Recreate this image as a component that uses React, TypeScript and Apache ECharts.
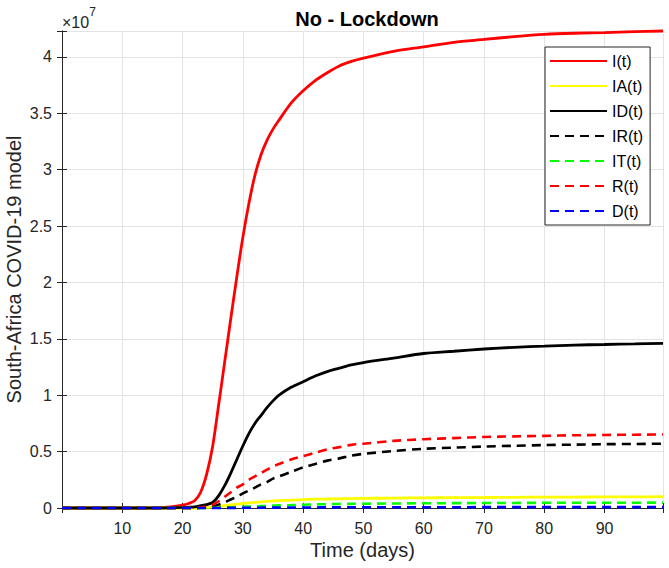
import React, { useEffect, useRef } from "react";
import * as echarts from "echarts";

const SCALE = 1e7;
const days = [0, 5, 10, 15, 18, 20, 21, 22, 23, 24, 25, 26, 27, 28, 29, 30, 31, 32, 33, 34, 35, 36, 38, 40, 42, 44, 46, 48, 50, 55, 60, 65, 70, 75, 80, 85, 90, 95, 99.7];

const I = [0, 0, 0, 0.001, 0.01, 0.025, 0.04, 0.065, 0.14, 0.3, 0.55, 0.92, 1.3, 1.68, 2.05, 2.4, 2.7, 2.95, 3.13, 3.26, 3.36, 3.44, 3.59, 3.7, 3.79, 3.86, 3.92, 3.96, 3.99, 4.05, 4.09, 4.13, 4.155, 4.18, 4.2, 4.21, 4.215, 4.225, 4.23];
const IA = [0, 0, 0, 0, 0, 0, 0, 0, 0.002, 0.005, 0.01, 0.015, 0.02, 0.027, 0.034, 0.04, 0.045, 0.05, 0.054, 0.058, 0.062, 0.065, 0.07, 0.075, 0.078, 0.08, 0.082, 0.084, 0.085, 0.088, 0.09, 0.092, 0.093, 0.095, 0.096, 0.097, 0.098, 0.099, 0.1];
const ID = [0, 0, 0, 0, 0.002, 0.005, 0.007, 0.01, 0.02, 0.03, 0.05, 0.11, 0.2, 0.31, 0.43, 0.55, 0.66, 0.75, 0.82, 0.89, 0.95, 1.0, 1.07, 1.12, 1.17, 1.21, 1.24, 1.27, 1.29, 1.33, 1.37, 1.39, 1.41, 1.425, 1.435, 1.445, 1.45, 1.455, 1.46];
const IR = [0, 0, 0, 0, 0, 0, 0, 0, 0.002, 0.005, 0.015, 0.03, 0.05, 0.075, 0.1, 0.13, 0.155, 0.18, 0.21, 0.23, 0.26, 0.28, 0.32, 0.36, 0.39, 0.42, 0.44, 0.465, 0.48, 0.505, 0.525, 0.535, 0.545, 0.552, 0.558, 0.562, 0.566, 0.568, 0.57];
const IT = [0, 0, 0, 0, 0, 0, 0, 0, 0, 0.001, 0.002, 0.003, 0.005, 0.007, 0.009, 0.011, 0.013, 0.015, 0.017, 0.019, 0.021, 0.023, 0.026, 0.029, 0.032, 0.034, 0.036, 0.037, 0.038, 0.04, 0.042, 0.043, 0.044, 0.045, 0.046, 0.046, 0.047, 0.047, 0.048];
const R = [0, 0, 0, 0, 0, 0, 0, 0, 0.005, 0.015, 0.03, 0.06, 0.1, 0.14, 0.18, 0.21, 0.25, 0.28, 0.31, 0.34, 0.37, 0.39, 0.43, 0.46, 0.49, 0.52, 0.54, 0.56, 0.57, 0.595, 0.61, 0.62, 0.63, 0.635, 0.64, 0.645, 0.648, 0.65, 0.652];
const D = [0, 0, 0, 0, 0, 0, 0, 0, 0, 0, 0, 0.0005, 0.001, 0.001, 0.0015, 0.002, 0.002, 0.0025, 0.003, 0.003, 0.0035, 0.004, 0.004, 0.005, 0.005, 0.0055, 0.006, 0.006, 0.006, 0.0065, 0.007, 0.007, 0.0075, 0.0075, 0.008, 0.008, 0.008, 0.008, 0.008];

const seriesDefs = [
  { name: "I(t)", data: I, color: "#ff0000", dashed: false },
  { name: "IA(t)", data: IA, color: "#ffff00", dashed: false },
  { name: "ID(t)", data: ID, color: "#000000", dashed: false },
  { name: "IR(t)", data: IR, color: "#000000", dashed: true },
  { name: "IT(t)", data: IT, color: "#00ff00", dashed: true },
  { name: "R(t)", data: R, color: "#ff0000", dashed: true },
  { name: "D(t)", data: D, color: "#0000ff", dashed: true },
];

const X_MIN = 0;
const X_MAX = 99.7;
const Y_MAX = 4.23 * SCALE;

const FONT = "Liberation Sans, Arial, Helvetica, sans-serif";
const AX = "#262626";

export default function App() {
  const ref = useRef<HTMLDivElement>(null);
  useEffect(() => {
    if (!ref.current) return;
    const chart = echarts.init(ref.current, null, { renderer: "svg" });
    const isMultiple = (v: number, step: number) => Math.abs(v / step - Math.round(v / step)) < 1e-6;
    const grid = { left: 62, top: 31, right: 6, bottom: 60, containLabel: false, outerBoundsMode: "none" };
    const common = {
      axisLine: { show: true, lineStyle: { color: AX, width: 1 } },
      axisTick: { show: true, inside: true, length: 5, lineStyle: { color: AX } },
    };
    chart.setOption({
      animation: false,
      backgroundColor: "#ffffff",
      textStyle: { fontFamily: FONT },
      title: {
        text: "No - Lockdown",
        left: 362,
        textAlign: "center",
        top: 4,
        textStyle: { fontFamily: FONT, fontWeight: "bold", fontSize: 20, color: "#000" },
      },
      grid,
      legend: {
        orient: "vertical",
        left: 545,
        top: 47,
        itemWidth: 57,
        itemHeight: 14,
        itemGap: 9,
        padding: [6, 7, 6, 4],
        backgroundColor: "#ffffff",
        borderColor: AX,
        borderWidth: 1,
        borderRadius: 0,
        itemStyle: { opacity: 0 },
        textStyle: { fontFamily: FONT, fontSize: 16, color: "#000" },
        data: seriesDefs.map((s) => s.name),
      },
      xAxis: [
        {
          type: "value",
          min: X_MIN,
          max: X_MAX,
          interval: 10,
          ...common,
          axisLabel: {
            color: AX,
            fontSize: 16,
            fontFamily: FONT,
            margin: 12,
            showMinLabel: false,
            formatter: (v: number) => (v > 0 && isMultiple(v, 10) ? String(v) : ""),
          },
          splitLine: { show: true, lineStyle: { color: "#e3e3e3", width: 1 } },
          name: "Time (days)",
          nameLocation: "middle",
          nameGap: 32,
          nameMoveOverlap: false,
          nameTextStyle: { fontFamily: FONT, fontSize: 20, color: AX },
        },
        {
          type: "value",
          position: "top",
          min: X_MIN,
          max: X_MAX,
          interval: 10,
          ...common,
          axisLabel: { show: false },
          splitLine: { show: false },
        },
      ],
      yAxis: [
        {
          type: "value",
          min: 0,
          max: Y_MAX,
          interval: 0.5 * SCALE,
          ...common,
          axisLabel: {
            color: AX,
            fontSize: 16,
            fontFamily: FONT,
            margin: 10,
            formatter: (v: number) => (isMultiple(v, 0.5 * SCALE) ? String(v / SCALE) : ""),
          },
          splitLine: { show: true, lineStyle: { color: "#e3e3e3", width: 1 } },
          name: "South-Africa COVID-19 model",
          nameLocation: "middle",
          nameGap: 38,
          nameMoveOverlap: false,
          nameTextStyle: { fontFamily: FONT, fontSize: 20, color: AX },
        },
        {
          type: "value",
          position: "right",
          min: 0,
          max: Y_MAX,
          interval: 0.5 * SCALE,
          ...common,
          axisLabel: { show: false },
          splitLine: { show: false },
        },
      ],
      graphic: [
        {
          type: "text",
          left: 62,
          top: 6,
          style: {
            text: "{a|×10}{b|7}",
            rich: {
              a: { fontFamily: FONT, fontSize: 16, fill: AX, verticalAlign: "bottom", padding: [8, 0, 0, 0] },
              b: { fontFamily: FONT, fontSize: 12, fill: AX, verticalAlign: "top" },
            },
          },
        },
      ],
      series: seriesDefs.map((s) => ({
        name: s.name,
        type: "line",
        xAxisIndex: 0,
        yAxisIndex: 0,
        showSymbol: false,
        symbol: "none",
        smooth: 0.3,
        clip: false,
        color: s.color,
        lineStyle: { color: s.color, width: s.dashed ? 2.6 : 2.8, type: s.dashed ? [9, 6] : "solid" },
        data: days.map((d, i) => [d, s.data[i] * SCALE]),
      })),
    });
    return () => chart.dispose();
  }, []);
  return <div ref={ref} style={{ position: "fixed", left: 0, top: 0, width: 669, height: 568 }} />;
}
